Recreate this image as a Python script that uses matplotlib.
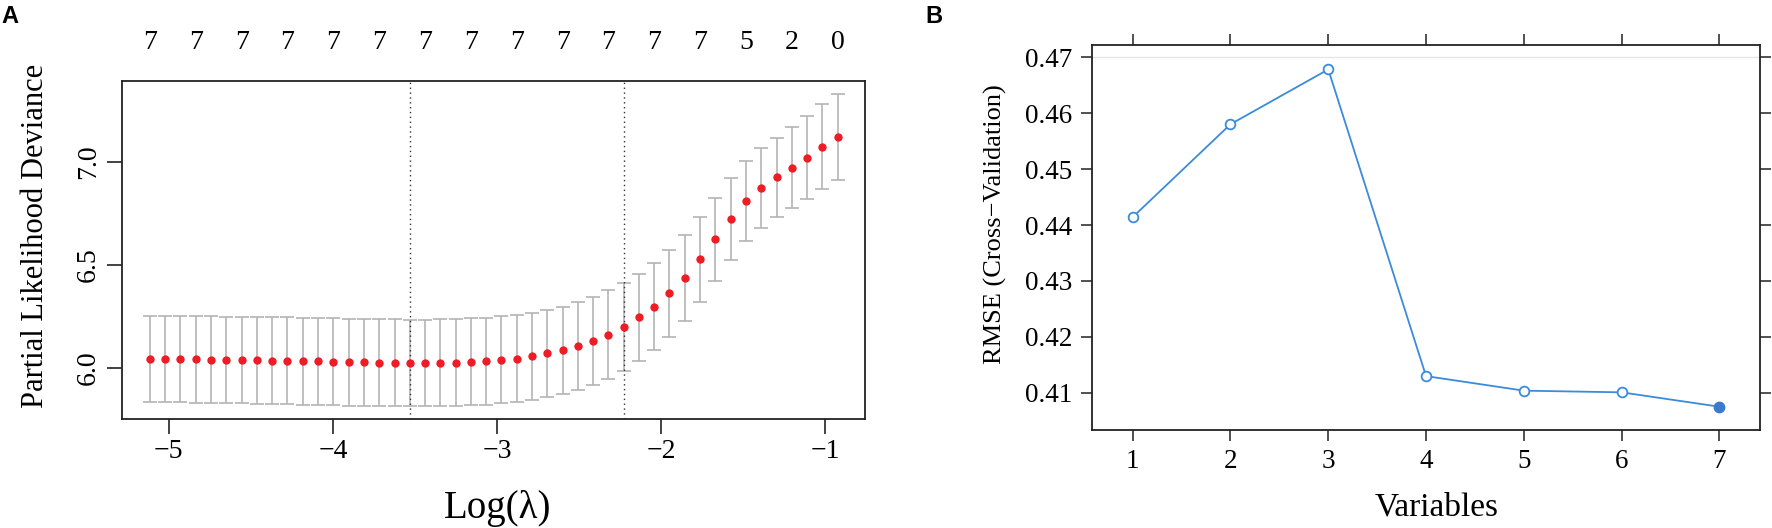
import matplotlib
matplotlib.use("Agg")
import matplotlib.pyplot as plt

plt.rcParams['font.family'] = ['Liberation Serif', 'DejaVu Serif']

# panel A: lasso cross-validation (glmnet style)
log_lambda = [-5.115, -5.022, -4.929, -4.836, -4.743, -4.650, -4.556, -4.463, -4.370, -4.277,
              -4.184, -4.091, -3.998, -3.905, -3.812, -3.719, -3.625, -3.532, -3.439, -3.346,
              -3.253, -3.160, -3.067, -2.974, -2.881, -2.788, -2.694, -2.601, -2.508, -2.415,
              -2.322, -2.229, -2.136, -2.043, -1.950, -1.857, -1.763, -1.670, -1.577, -1.484,
              -1.391, -1.298, -1.205, -1.112, -1.019, -0.926]
deviance = [6.043, 6.042, 6.041, 6.040, 6.039, 6.038, 6.037, 6.036, 6.034, 6.033,
            6.031, 6.030, 6.028, 6.027, 6.026, 6.025, 6.024, 6.023, 6.023, 6.024,
            6.025, 6.028, 6.031, 6.038, 6.044, 6.056, 6.069, 6.084, 6.105, 6.130,
            6.161, 6.198, 6.244, 6.297, 6.361, 6.438, 6.526, 6.623, 6.723, 6.810,
            6.875, 6.925, 6.972, 7.021, 7.074, 7.123]
dev_se = [0.210, 0.210, 0.210, 0.210, 0.210, 0.210, 0.210, 0.211, 0.211, 0.211,
          0.211, 0.211, 0.211, 0.211, 0.211, 0.211, 0.211, 0.211, 0.211, 0.211,
          0.211, 0.211, 0.211, 0.211, 0.211, 0.211, 0.211, 0.211, 0.212, 0.212,
          0.214, 0.214, 0.211, 0.212, 0.211, 0.209, 0.207, 0.202, 0.198, 0.196,
          0.194, 0.193, 0.197, 0.202, 0.206, 0.209]
lambda_min = -3.532
lambda_1se = -2.229
n_nonzero = [7, 7, 7, 7, 7, 7, 7, 7, 7, 7, 7, 7, 7, 5, 2, 0]

# panel B: RMSE vs number of variables
n_vars = [1, 2, 3, 4, 5, 6, 7]
rmse = [0.4414, 0.4580, 0.4678, 0.4130, 0.4104, 0.4101, 0.40753]

W, H = 1772, 528
fig = plt.figure(figsize=(W / 100, H / 100), dpi=100)


def box(l, t, r, b):
    return [l / W, 1 - b / H, (r - l) / W, (b - t) / H]


# ---- A ----
ax = fig.add_axes(box(122, 81, 865, 418.5))
ax.errorbar(log_lambda, deviance, yerr=dev_se, fmt='none', ecolor='#b4b4b4',
            elinewidth=1.2, capsize=5, capthick=1.2, zorder=1)
ax.plot(log_lambda, deviance, 'o', color='#ee1c25', ms=6, mec='none', zorder=3)
for v in (lambda_min, lambda_1se):
    ax.axvline(v, color='#333333', ls=(0, (1, 2.5)), lw=1, zorder=2)
ax.set_xlim(-5.285, -0.759)
ax.set_ylim(5.753, 7.393)
ax.set_xticks([-5, -4, -3, -2, -1])
ax.set_xticklabels(['\u22125', '\u22124', '\u22123', '\u22122', '\u22121'])
ax.set_yticks([6.0, 6.5, 7.0])
ax.set_yticklabels(['6.0', '6.5', '7.0'], rotation=90, va='center')
ax.tick_params(length=11, width=1.2, labelsize=20, pad=4, color='#222222')
for s in ax.spines.values():
    s.set_linewidth(1.3)
    s.set_color('#222222')
for x, n in zip(log_lambda[::3], n_nonzero):
    ax.text(x, 1.113, str(n), transform=ax.get_xaxis_transform(),
            ha='center', va='center', fontsize=20)
fig.text(36 / W, 1 - 236 / H, 'Partial Likelihood Deviance', rotation=90,
         ha='center', va='center', fontsize=22)
fig.text(498 / W, 1 - 518 / H, 'Log(\u03bb)', ha='center', va='baseline', fontsize=28)
fig.text(1 / W, 1 - 5 / H, 'A', ha='left', va='top', fontsize=17,
         fontweight='bold', family='Liberation Sans')

# ---- B ----
bx = fig.add_axes(box(1091.6, 44.8, 1760.5, 430))
bx.axhline(0.47, color='#e6e6e6', lw=1, zorder=0)
bx.plot(n_vars, rmse, '-', color='#3b8bdb', lw=1.3, zorder=2)
bx.plot(n_vars[:-1], rmse[:-1], 'o', mfc='white', mec='#3b8bdb', mew=1.3, ms=7, zorder=3)
bx.plot(n_vars[-1:], rmse[-1:], 'o', color='#3a7bd0', ms=7.5, zorder=3)
bx.set_xlim(0.58, 7.42)
bx.set_ylim(0.40337, 0.4722)
bx.set_xticks(n_vars)
bx.set_yticks([0.41, 0.42, 0.43, 0.44, 0.45, 0.46, 0.47])
bx.set_yticklabels(['0.41', '0.42', '0.43', '0.44', '0.45', '0.46', '0.47'])
bx.tick_params(top=True, right=True, length=8, width=1.1, labelsize=19.5, pad=6,
               color='#222222')
for s in bx.spines.values():
    s.set_linewidth(1.3)
    s.set_color('#222222')
fig.text(995 / W, 1 - 224.5 / H, 'RMSE (Cross\u2212Validation)', rotation=90,
         ha='center', va='center', fontsize=19)
fig.text(1437 / W, 1 - 515 / H, 'Variables', ha='center', va='baseline', fontsize=24)
fig.text(925 / W, 1 - 5 / H, 'B', ha='left', va='top', fontsize=17,
         fontweight='bold', family='Liberation Sans')

fig.savefig('out.png', dpi=100)
